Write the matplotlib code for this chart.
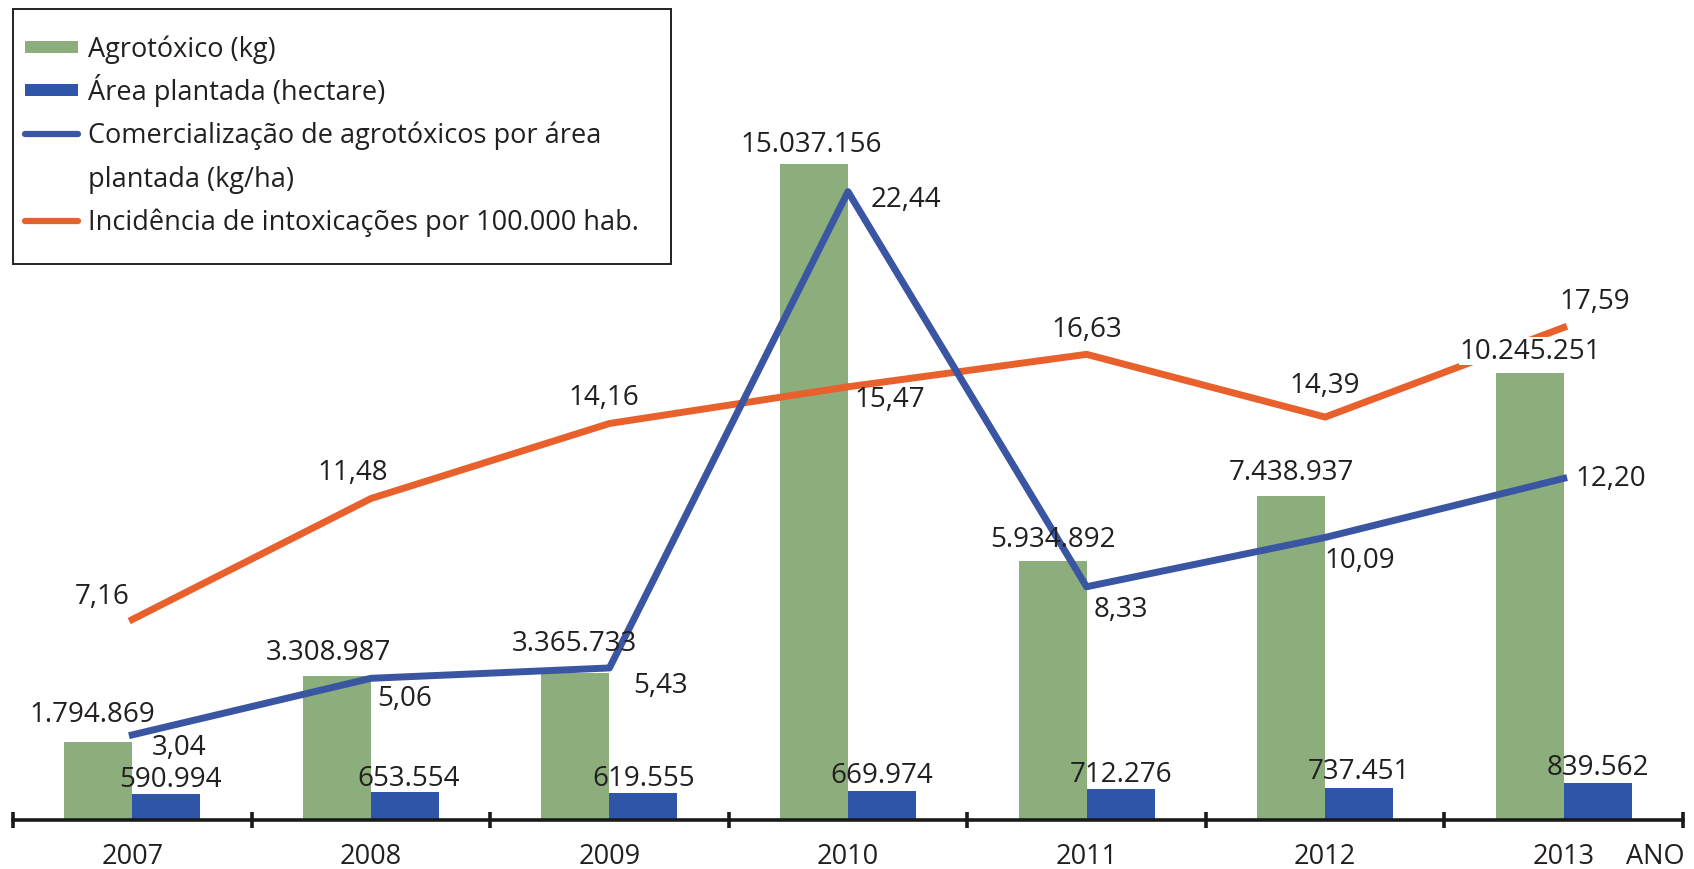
import matplotlib.pyplot as plt
from matplotlib.patches import Rectangle
from matplotlib.lines import Line2D
import numpy as np

plt.rcParams['font.family'] = ['Open Sans', 'DejaVu Sans']

# data
anos = ['2007', '2008', '2009', '2010', '2011', '2012', '2013']
agrotoxico_kg = [1794869, 3308987, 3365733, 15037156, 5934892, 7438937, 10245251]
area_ha = [590994, 653554, 619555, 669974, 712276, 737451, 839562]
kg_por_ha = [3.04, 5.06, 5.43, 22.44, 8.33, 10.09, 12.20]
incidencia = [7.16, 11.48, 14.16, 15.47, 16.63, 14.39, 17.59]

# label offsets in points
off_agro = [(-4, 15), (-6, 12), (-1, 17), (-2, 9.5), (0, 11), (0, 12), (0, 11)]
off_area = [(3, 6), (3, 5), (0, 6), (0, 6), (0, 6), (0, 7), (0, 7)]
off_kgha = [(34, -9), (24, -14), (37, -12), (42, -5), (25, -16), (25, -16), (34, 0)]
off_inc = [(-22, 17), (-13, 19), (-4, 19), (30, -9), (0, 18), (0, 23), (22, 19)]

verde = '#8cae7c'
azul_barra = '#2e55a7'
azul_linha = '#3a56a2'
laranja = '#e8612c'
texto = '#231f20'
FS = 20

W, H = 1694, 870


def milhar(v):
    return f"{v:,}".replace(',', '.')


def decimal(v):
    return f"{v:.2f}".replace('.', ',')


fig = plt.figure(figsize=(W / 100, H / 100), dpi=100)
ax = fig.add_axes([13 / W, 49 / H, 1670 / W, 821 / H])
ax2 = ax.twinx()
ax2.set_zorder(ax.get_zorder() + 1)

x = np.arange(len(anos))
w = 0.285

ax.bar(x - w / 2, agrotoxico_kg, w, color=verde)
ax.bar(x + w / 2, area_ha, w, color=azul_barra)
ax.set_ylim(0, 18.83e6)
ax.set_xlim(-0.5, 6.5)

ax2.plot(x, incidencia, color=laranja, lw=5, zorder=2)
ax2.plot(x, kg_por_ha, color=azul_linha, lw=5, zorder=3)
ax2.set_ylim(0, 29.32)

for a in (ax, ax2):
    for s in ['top', 'left', 'right', 'bottom']:
        a.spines[s].set_visible(False)
    a.set_yticks([])

ax.spines['bottom'].set_visible(True)
ax.spines['bottom'].set_linewidth(2.6)
ax.spines['bottom'].set_color('#1a1a1a')

ax.set_xticks(np.arange(-0.5, 7, 1.0))
ax.set_xticklabels([])
ax.tick_params(axis='x', which='major', direction='inout', length=12, width=2.6, color='#1a1a1a')
ax.set_xticks(x, anos, minor=True)
ax.tick_params(axis='x', which='minor', length=0, pad=16, labelsize=19.5, labelcolor=texto)

ax.annotate('ANO', xy=(6.5, 0), xycoords=ax.get_xaxis_transform(),
            xytext=(1, -16), textcoords='offset points', ha='right', va='top',
            fontsize=19.5, color=texto)

# value labels, drawn on the upper axes so they sit over the lines
for i in range(len(anos)):
    bb = None
    if i == 6:
        bb = dict(boxstyle='square,pad=0', fc='white', ec='none')
    ax2.annotate(milhar(agrotoxico_kg[i]), xy=(x[i] - w / 2, agrotoxico_kg[i]),
                 xycoords=ax.transData, xytext=off_agro[i], textcoords='offset points',
                 ha='center', va='baseline', fontsize=FS, color=texto, bbox=bb, zorder=5)
    ax2.annotate(milhar(area_ha[i]), xy=(x[i] + w / 2, area_ha[i]),
                 xycoords=ax.transData, xytext=off_area[i], textcoords='offset points',
                 ha='center', va='baseline', fontsize=FS, color=texto, zorder=5)
    ax2.annotate(decimal(kg_por_ha[i]), xy=(x[i], kg_por_ha[i]),
                 xytext=off_kgha[i], textcoords='offset points',
                 ha='center', va='center', fontsize=FS, color=texto, zorder=5)
    ax2.annotate(decimal(incidencia[i]), xy=(x[i], incidencia[i]),
                 xytext=off_inc[i], textcoords='offset points',
                 ha='center', va='center', fontsize=FS, color=texto, zorder=5)

# legend box drawn by hand (pixel layout of the original)
def fx(px):
    return px / W


def fy(py):
    return 1 - py / H


fig.add_artist(Rectangle((fx(13), fy(265)), fx(671) - fx(13), fy(10) - fy(265),
                         transform=fig.transFigure, fill=False, ec='#222222', lw=1.4))

leg_txt = [
    'Agrotóxico (kg)',
    'Área plantada (hectare)',
    'Comercialização de agrotóxicos por área',
    'plantada (kg/ha)',
    'Incidência de intoxicações por 100.000 hab.',
]
leg_base = [57, 100, 143, 187, 230]
for t, b in zip(leg_txt, leg_base):
    fig.text(fx(88), fy(b), t, fontsize=19.5, color=texto, va='baseline', ha='left')

for b, c in [(57, verde), (100, azul_barra)]:
    fig.add_artist(Rectangle((fx(25), fy(b - 3)), fx(78) - fx(25), fy(b - 15) - fy(b - 3),
                             transform=fig.transFigure, fc=c, ec='none'))
for b, c in [(143, azul_linha), (230, laranja)]:
    fig.add_artist(Line2D([fx(25), fx(78)], [fy(b - 8), fy(b - 8)],
                          transform=fig.transFigure, color=c, lw=4.5, solid_capstyle='round'))

fig.savefig('out.png', dpi=100)
